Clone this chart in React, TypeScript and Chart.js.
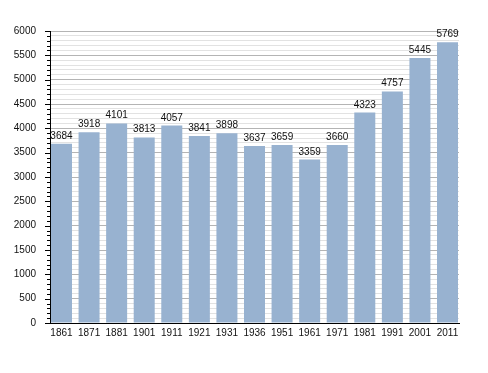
import React, { useEffect, useRef } from "react";
import { Chart, registerables } from "chart.js";

Chart.register(...registerables);

const years = ["1861", "1871", "1881", "1901", "1911", "1921", "1931", "1936", "1951", "1961", "1971", "1981", "1991", "2001", "2011"];
const population = [3684, 3918, 4101, 3813, 4057, 3841, 3898, 3637, 3659, 3359, 3660, 4323, 4757, 5445, 5769];
const yMax = 6000;
const majorStep = 500;
const minorStep = 100;

const FONT = "'Liberation Sans', Arial, sans-serif";

const valueLabels = {
  id: "valueLabels",
  afterDatasetsDraw(chart: any) {
    const ctx = chart.ctx;
    const meta = chart.getDatasetMeta(0);
    ctx.save();
    ctx.font = `10px ${FONT}`;
    ctx.fillStyle = "#111";
    ctx.textAlign = "center";
    ctx.textBaseline = "alphabetic";
    meta.data.forEach((el: any, i: number) => {
      ctx.fillText(String(population[i]), el.x, el.y - 5);
    });
    ctx.restore();
  },
};

const yTickMarks = {
  id: "yTickMarks",
  afterDraw(chart: any) {
    const ctx = chart.ctx;
    const y = chart.scales.y;
    const left = chart.chartArea.left;
    ctx.save();
    ctx.strokeStyle = "#000";
    ctx.lineWidth = 1;
    for (let v = 0; v <= yMax; v += minorStep) {
      const py = Math.round(y.getPixelForValue(v)) + 0.5;
      const len = v % majorStep === 0 ? 5 : 3;
      ctx.beginPath();
      ctx.moveTo(left - len, py);
      ctx.lineTo(left, py);
      ctx.stroke();
    }
    ctx.restore();
  },
};

export default function App() {
  const ref = useRef<HTMLCanvasElement>(null);
  useEffect(() => {
    document.body.style.margin = "0";
    const chart = new Chart(ref.current!, {
      type: "bar",
      data: {
        datasets: [
          {
            data: population.map((v, i) => ({ x: i, y: v })),
            backgroundColor: "#98b2d0",
            borderWidth: 0,
            barPercentage: 0.762,
            categoryPercentage: 1,
          },
        ],
      },
      options: {
        animation: false,
        responsive: false,
        maintainAspectRatio: false,
        layout: { padding: { top: 31, right: 29, left: 0, bottom: 0 } },
        plugins: { legend: { display: false }, tooltip: { enabled: false } },
        scales: {
          x: {
            type: "linear",
            offset: false,
            min: -0.417,
            max: 14.417,
            afterBuildTicks: (scale: any) => {
              scale.ticks = years.map((_, i) => ({ value: i }));
            },
            afterFit: (scale: any) => {
              scale.height = 50;
            },
            grid: { display: false, drawTicks: false, offset: false },
            border: { display: true, color: "#000", width: 1 },
            ticks: {
              autoSkip: false,
              maxRotation: 0,
              padding: 4,
              color: "#111",
              font: { family: FONT, size: 10 },
              callback: (v: any) => years[v] ?? "",
            },
          },
          y: {
            type: "linear",
            min: 0,
            max: yMax,
            afterFit: (scale: any) => {
              scale.width = 50;
            },
            grid: {
              drawTicks: false,
              color: (c: any) => (c.tick && c.tick.value % majorStep === 0 ? "#b4b4b4" : "#e2e2e2"),
              lineWidth: 1,
            },
            border: { display: true, color: "#000", width: 1 },
            ticks: {
              stepSize: minorStep,
              autoSkip: false,
              maxTicksLimit: 1000,
              padding: 14,
              color: "#111",
              font: { family: FONT, size: 10 },
              callback: (v: any) => (v % majorStep === 0 ? String(v) : ""),
            },
          },
        },
      },
      plugins: [valueLabels, yTickMarks],
    } as any);
    return () => chart.destroy();
  }, []);
  return (
    <div style={{ position: "absolute", left: 0, top: 0, width: 488, height: 373, background: "#fff" }}>
      <canvas ref={ref} width={488} height={373} style={{ width: 488, height: 373 }} />
    </div>
  );
}
